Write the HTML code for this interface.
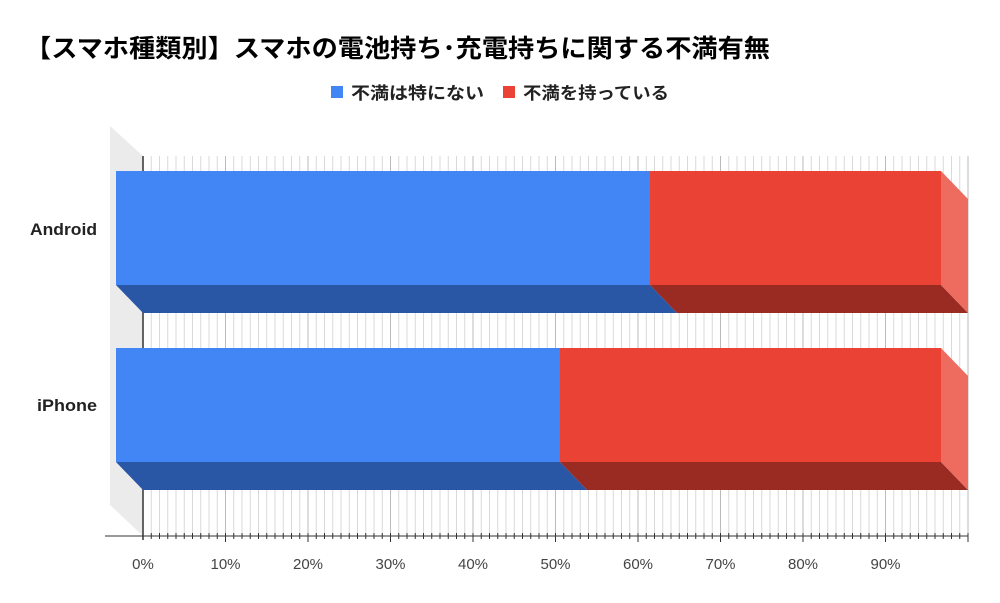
<!DOCTYPE html><html><head><meta charset="utf-8"><style>body{margin:0;background:#fff}svg{display:block}text{font-family:"Liberation Sans","Noto Sans CJK JP",sans-serif}</style></head><body>
<svg width="1000" height="603" viewBox="0 0 1000 603">
<text x="25" y="57" font-size="25" font-weight="bold" fill="#000" textLength="745" lengthAdjust="spacingAndGlyphs">【スマホ種類別】スマホの電池持ち･充電持ちに関する不満有無</text>
<rect x="331" y="86" width="12" height="12" fill="#4285f4"/>
<text x="351" y="99" font-size="17" font-weight="bold" fill="#222" textLength="133" lengthAdjust="spacingAndGlyphs">不満は特にない</text>
<rect x="503" y="86" width="12" height="12" fill="#ea4335"/>
<text x="523" y="99" font-size="17" font-weight="bold" fill="#222" textLength="146" lengthAdjust="spacingAndGlyphs">不満を持っている</text>
<polygon points="110,126 143,156 143,536 110,505" fill="#ebebeb"/>
<g id="g" stroke="#d9d9d9" stroke-width="1"></g>
<line x1="143" y1="156" x2="143" y2="540" stroke="#333" stroke-width="1.5"/>
<line x1="105" y1="536" x2="968" y2="536" stroke="#333" stroke-width="1"/>
<g id="t" stroke="#333" stroke-width="1"></g>
<g font-size="15" fill="#444" text-anchor="middle" id="lbl"></g>
<polygon points="116,285 650,285 677,313 143,313" fill="#2a56a6"/>
<polygon points="650,285 941,285 968,313 677,313" fill="#992b22"/>
<polygon points="941,171 968,199 968,313 941,285" fill="#ee6b60"/>
<rect x="116" y="171" width="534" height="114" fill="#4285f4"/>
<rect x="650" y="171" width="291" height="114" fill="#ea4335"/>
<polygon points="116,462 560,462 587,490 143,490" fill="#2a56a6"/>
<polygon points="560,462 941,462 968,490 587,490" fill="#992b22"/>
<polygon points="941,348 968,376 968,490 941,462" fill="#ee6b60"/>
<rect x="116" y="348" width="444" height="114" fill="#4285f4"/>
<rect x="560" y="348" width="381" height="114" fill="#ea4335"/>
<text x="97" y="235" font-size="17" font-weight="bold" text-anchor="end" fill="#222" textLength="67" lengthAdjust="spacingAndGlyphs">Android</text>
<text x="97" y="411" font-size="17" font-weight="bold" text-anchor="end" fill="#222" textLength="60" lengthAdjust="spacingAndGlyphs">iPhone</text>
</svg>
<script>
var ns="http://www.w3.org/2000/svg",g=document.getElementById("g"),t=document.getElementById("t"),l=document.getElementById("lbl");
for(var i=1;i<=100;i++){var x=143+i*8.25;
var e=document.createElementNS(ns,"line");e.setAttribute("x1",x);e.setAttribute("x2",x);e.setAttribute("y1",156);e.setAttribute("y2",536);if(i%10==0)e.setAttribute("stroke","#bbb");g.appendChild(e);
var k=document.createElementNS(ns,"line");k.setAttribute("x1",x);k.setAttribute("x2",x);k.setAttribute("y1",533);k.setAttribute("y2",i%10==0?542:539);t.appendChild(k);}
for(var j=0;j<10;j++){var s=document.createElementNS(ns,"text");s.setAttribute("x",143+j*82.5);s.setAttribute("y",569);s.textContent=j*10+"%";l.appendChild(s);}
</script>
</body></html>
